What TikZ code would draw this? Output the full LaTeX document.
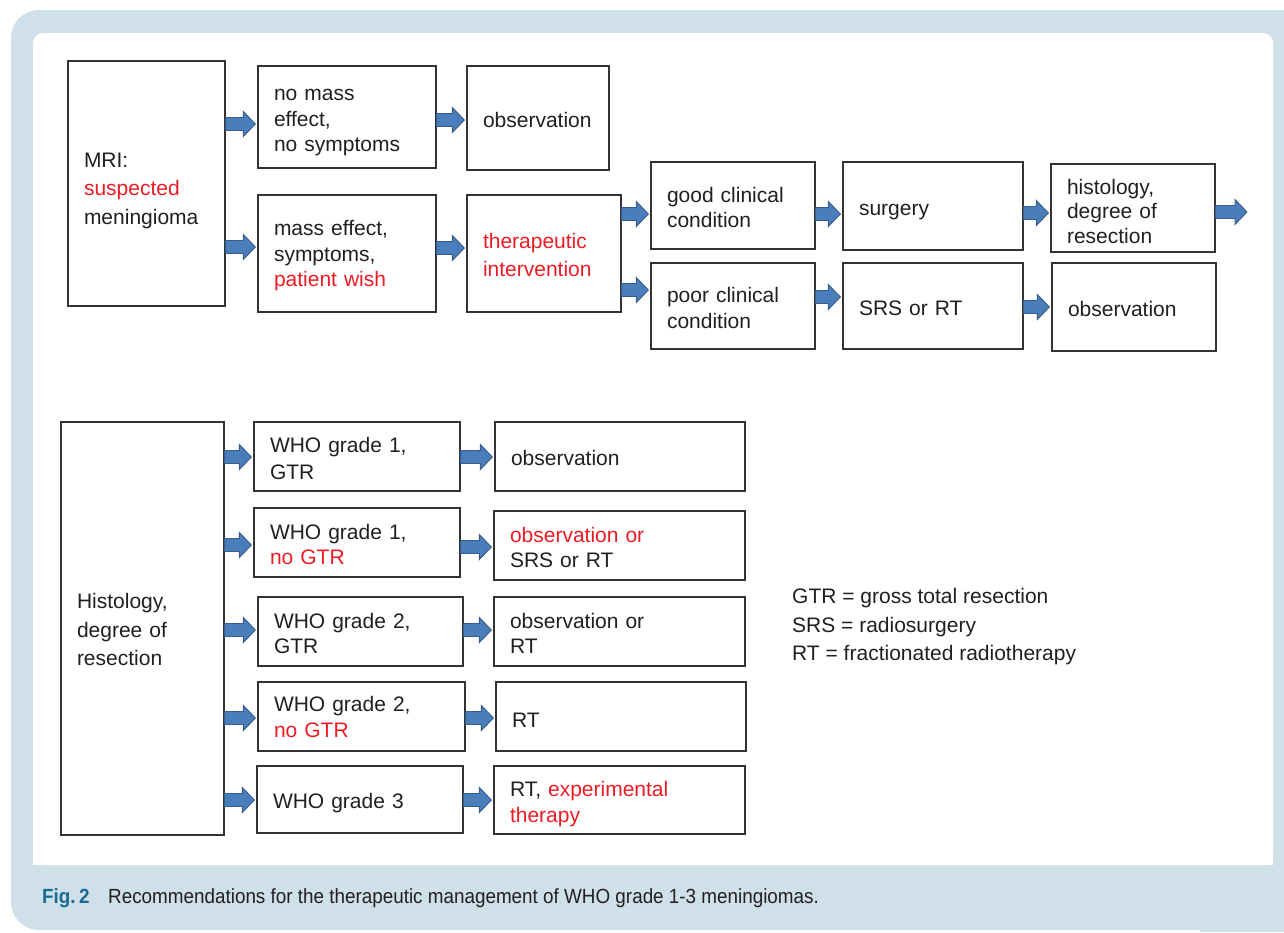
\documentclass[tikz,border=0pt]{standalone}
\usepackage{fontspec}
\setmainfont{Liberation Sans}
\newfontfamily\capfont[FakeStretch=0.92]{Liberation Sans}
\usetikzlibrary{calc}
\definecolor{bgblue}{RGB}{207,224,233}
\definecolor{txtred}{RGB}{237,28,36}
\definecolor{arrfill}{RGB}{74,126,187}
\definecolor{arrline}{RGB}{56,93,138}
\definecolor{figblue}{RGB}{26,107,147}
\definecolor{boxline}{RGB}{51,51,51}
\definecolor{txtgray}{RGB}{35,31,32}
% top strut (height only) and bottom strut (depth only)
\newcommand{\ts}[1][23]{\rule{0pt}{#1pt}}
\newcommand{\bs}{\rule[-4.5pt]{0pt}{4.5pt}}
\newcommand{\barrow}[3]{%
  \path[blockarrow] let \p1=(#1 |- 0,#3), \p2=(#2) in
    (\x1,\y1+6.5pt) -- (\x2-14pt,\y1+6.5pt) -- (\x2-14pt,\y1+12.5pt) --
    (\x2-2pt,\y1) -- (\x2-14pt,\y1-12.5pt) -- (\x2-14pt,\y1-6.5pt) --
    (\x1,\y1-6.5pt) -- cycle;}
\tikzset{
  box/.style n args={3}{draw=boxline, line width=1.3pt, fill=white,
    inner xsep=16pt, inner ysep=0pt, align=left, text=txtgray,
    font=\fontsize{21}{25.5}\selectfont,
    minimum width=#1pt, minimum height=#2pt, text width=#3pt},
  wide/.style={font=\fontsize{21}{28.5}\selectfont},
  blockarrow/.style={fill=arrfill, draw=arrline, line width=0.9pt, line join=miter},
  legend/.style={anchor=base west, inner sep=0pt, text=txtgray, font=\fontsize{21}{25}\selectfont},
}
\begin{document}
\begin{tikzpicture}[x=1pt,y=-1pt]
\useasboundingbox (0,0) rectangle (1284,932);
\clip (0,0) rectangle (1284,932);
% frame
\fill[bgblue, rounded corners=28pt] (11,10) rectangle (1330,930);
\fill[bgblue] (1200,880) rectangle (1284,932);
\fill[white, rounded corners=10pt] (33,33) rectangle (1273,865);
\fill[white] (33,820) rectangle (1273,865);

% top flow
\node[box={157}{245}{125}, wide] (mri) at (146.5,183.5) {\ts[28.5]MRI:\\ \textcolor{txtred}{suspected}\\ meningioma\bs};
\node[box={178}{102}{146}] (nm) at (347,117) {\ts no mass\\ effect,\\ no symptoms\bs};
\node[box={178}{117}{146}] (me) at (347,253.5) {\ts[20]mass effect,\\ symptoms,\\ \textcolor{txtred}{patient wish}\bs};
\node[box={142}{104}{110}] (obs1) at (538,118) {\ts observation\bs};
\node[box={154}{117}{122}, font=\fontsize{21}{28}\selectfont] (ther) at (544,253.5) {\ts\textcolor{txtred}{therapeutic}\\ \textcolor{txtred}{intervention}\bs};
\node[box={164}{87}{132}] (good) at (733,205.5) {\ts good clinical\\ condition\bs};
\node[box={164}{86}{132}] (poor) at (733,306) {\ts poor clinical\\ condition\bs};
\node[box={180}{88}{148}] (surg) at (933,206) {\ts surgery\bs};
\node[box={180}{86}{148}] (srs) at (933,306) {\ts SRS or RT\bs};
\node[box={164}{88}{132}, font=\fontsize{21}{24.5}\selectfont] (hist) at (1133,208) {\ts[26]histology,\\ degree of\\ resection\bs};
\node[box={164}{88}{132}] (obs2) at (1134,307) {\ts observation\bs};
\coordinate (histout) at (1249,212);

\barrow{mri.east}{nm.west}{124}
\barrow{mri.east}{me.west}{247}
\barrow{nm.east}{obs1.west}{120}
\barrow{me.east}{ther.west}{248}
\barrow{ther.east}{good.west}{214}
\barrow{ther.east}{poor.west}{290}
\barrow{good.east}{surg.west}{214}
\barrow{poor.east}{srs.west}{297}
\barrow{surg.east}{hist.west}{213}
\barrow{hist.east}{histout}{212}
\barrow{srs.east}{obs2.west}{307}

% bottom flow
\node[box={163}{413}{131}, wide] (histo) at (142.5,628.5) {\ts[17.5]Histology,\\ degree of\\ resection};
\node[box={206}{69}{174}, font=\fontsize{21}{27}\selectfont] (w1) at (357,456.5) {\ts WHO grade 1,\\ GTR\bs};
\node[box={250}{69}{218}] (o1) at (620,456.5) {\ts observation\bs};
\node[box={206}{69}{174}] (w1n) at (357,542.5) {\ts WHO grade 1,\\ \textcolor{txtred}{no GTR}\bs};
\node[box={251}{69}{219}] (o2) at (619.5,545.5) {\ts\textcolor{txtred}{observation or}\\ SRS or RT\bs};
\node[box={205}{69}{173}] (w2) at (360.5,631.5) {\ts WHO grade 2,\\ GTR\bs};
\node[box={251}{69}{219}] (o3) at (619.5,631.5) {\ts observation or\\ RT\bs};
\node[box={207}{69}{175}] (w2n) at (361.5,716.5) {\ts[20]WHO grade 2,\\ \textcolor{txtred}{no GTR}\bs};
\node[box={250}{69}{218}] (o4) at (621,716.5) {\ts[26]RT\bs};
\node[box={206}{67}{174}] (w3) at (360,799.5) {\ts WHO grade 3\bs};
\node[box={251}{68}{219}] (o5) at (619.5,800) {\ts RT, \textcolor{txtred}{experimental}\\ \textcolor{txtred}{therapy}\bs};

\barrow{histo.east}{w1.west}{457}
\barrow{histo.east}{w1n.west}{545}
\barrow{histo.east}{w2.west}{630}
\barrow{histo.east}{w2n.west}{718}
\barrow{histo.east}{w3.west}{800}
\barrow{w1.east}{o1.west}{457}
\barrow{w1n.east}{o2.west}{547}
\barrow{w2.east}{o3.west}{630}
\barrow{w2n.east}{o4.west}{718}
\barrow{w3.east}{o5.west}{800}

% legend
\node[legend] (lg1) at (792,603) {GTR = gross total resection};
\node[legend] (lg2) at (792,632) {SRS = radiosurgery};
\node[legend] (lg3) at (792,660) {RT = fractionated radiotherapy};

% caption
\node[anchor=base west, inner sep=0pt, text=figblue, font=\capfont\bfseries\fontsize{20.5}{24}\selectfont] (fig) at (42,903) {Fig.\,2};
\node[anchor=base west, inner sep=0pt, text=txtgray, font=\capfont\fontsize{20.5}{24}\selectfont] (cap) at (108,903) {Recommendations for the therapeutic management of WHO grade 1-3 meningiomas.};
\end{tikzpicture}
\end{document}
